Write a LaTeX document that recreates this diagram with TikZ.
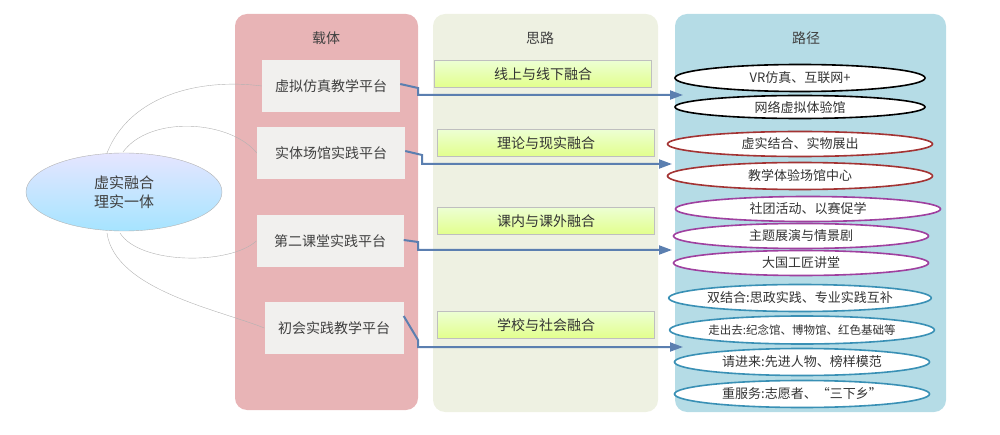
\documentclass[tikz,border=0pt]{standalone}
\usepackage{fontspec}
\setmainfont{Noto Sans CJK SC}
\usetikzlibrary{shapes.geometric,arrows.meta}
\definecolor{pinkp}{HTML}{E8B4B6}
\definecolor{greenp}{HTML}{EEF1E2}
\definecolor{bluep}{HTML}{B5DCE6}
\definecolor{gbox}{HTML}{F1F0EE}
\definecolor{arr}{HTML}{5B7FB0}
\tikzset{
 panel/.style={rounded corners=12pt,draw=none},
 head/.style={font=\fontsize{14}{16}\selectfont,text=black!75},
 carrier/.style={fill=gbox,minimum height=52pt,font=\fontsize{14}{16}\selectfont,text=black!75},
 idea/.style={draw=black!25,top color=green!8!white!90!yellow,bottom color=green!25!yellow!45,minimum height=27pt,minimum width=217pt,font=\fontsize{14}{16}\selectfont,text=black!80},
 path/.style={ellipse,line width=1.6pt,fill=white,minimum height=27pt,inner sep=0pt,font=\fontsize{13}{15}\selectfont,text=black!80},
 link/.style={draw=black!30,thin},
 flow/.style={draw=arr,line width=2pt,-{Triangle[length=13pt,width=9pt]}}
}
\begin{document}
\begin{tikzpicture}[x=1pt,y=-1pt]
\useasboundingbox (0,0) rectangle (1000,435);
\fill[pinkp,panel] (235,14) rectangle (418,410);
\fill[greenp,panel] (433,14) rectangle (658,412);
\fill[bluep,panel] (675,14) rectangle (946,412);
\node[head] (h1) at (326,38) {载体};
\node[head] (h2) at (540,38) {思路};
\node[head] (h3) at (806,38) {路径};
\node[ellipse,draw=black!30,top color=blue!10!white,bottom color=blue!30!cyan!35,minimum width=196pt,minimum height=78pt,font=\fontsize{15}{19}\selectfont,align=center,text=black!75] (c) at (124,192) {虚实融合\\理实一体};
\node[carrier,minimum width=138pt] (k1) at (331,86) {虚拟仿真教学平台};
\node[carrier,minimum width=148pt] (k2) at (331,153) {实体场馆实践平台};
\node[carrier,minimum width=147pt] (k3) at (330,241) {第二课堂实践平台};
\node[carrier,minimum width=139pt] (k4) at (334,328) {初会实践教学平台};
\node[idea] (i1) at (543,74) {线上与线下融合};
\node[idea] (i2) at (546,143) {理论与现实融合};
\node[idea] (i3) at (546,221) {课内与课外融合};
\node[idea] (i4) at (546,325) {学校与社会融合};
\node[path,draw=black,minimum width=250pt] (p1) at (800,78) {VR仿真、互联网+};
\node[path,draw=black,minimum width=250pt,minimum height=23pt] (p2) at (800,107) {网络虚拟体验馆};
\node[path,draw=red!55!black!80,minimum width=265pt,minimum height=25pt] (p3) at (800,144) {虚实结合、实物展出};
\node[path,draw=red!55!black!80,minimum width=265pt] (p4) at (800,176) {教学体验场馆中心};
\node[path,draw=violet!75,minimum width=265pt,minimum height=25pt] (p5) at (808,209) {社团活动、以赛促学};
\node[path,draw=violet!75,minimum width=255pt,minimum height=25pt] (p6) at (801,236) {主题展演与情景剧};
\node[path,draw=violet!75,minimum width=255pt,minimum height=25pt] (p7) at (801,263) {大国工匠讲堂};
\node[path,draw=cyan!70!black,minimum width=250pt] (p8) at (800,298) {双结合:思政实践、专业实践互补};
\node[path,draw=cyan!70!black,minimum width=255pt,minimum height=28pt,font=\fontsize{11.5}{13}\selectfont] (p9) at (802,330) {走出去:纪念馆、博物馆、红色基础等};
\node[path,draw=cyan!70!black,minimum width=255pt] (p10) at (802,362) {请进来:先进人物、榜样模范};
\node[path,draw=cyan!70!black,minimum width=255pt] (p11) at (802,394) {重服务:志愿者、“三下乡”};
\draw[link] (107,153) .. controls (130,95) and (200,78) .. (k1.west);
\draw[link] (123,152) .. controls (150,115) and (230,120) .. (k2.west);
\draw[link] (120,233) .. controls (140,265) and (230,265) .. (k3.west);
\draw[link] (107,233) .. controls (115,290) and (220,310) .. (k4.west);
\coordinate (e1) at (683,95);
\coordinate (e2) at (672,164);
\coordinate (e3) at (672,250);
\coordinate (e4) at (683,347);
\draw[flow] ([yshift=2pt]k1.east) -- (418,88) -- (418,95) -- (e1);
\draw[flow] ([yshift=2pt]k2.east) -- (422,155) -- (422,164) -- (e2);
\draw[flow] ([yshift=1pt]k3.east) -- (418,242) -- (418,250) -- (e3);
\draw[flow] ([yshift=12pt]k4.east) -- (418,340) -- (418,347) -- (e4);
\end{tikzpicture}
\end{document}
